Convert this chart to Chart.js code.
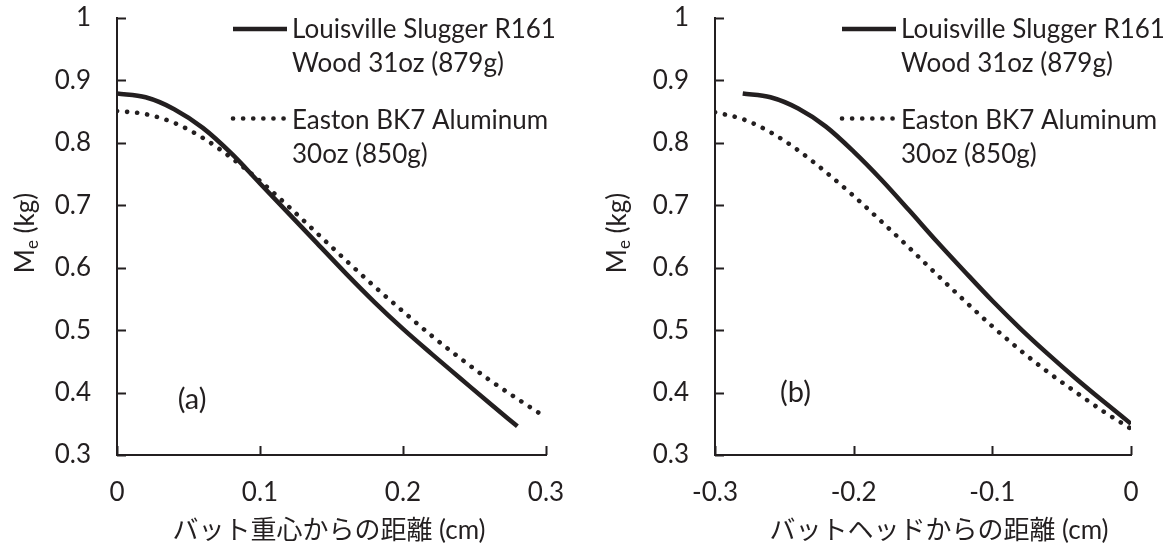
<!DOCTYPE html>
<html>
<head>
<meta charset="utf-8">
<script src="https://cdn.jsdelivr.net/npm/chart.js@4.4.1/dist/chart.umd.min.js"></script>
<style>
  body { margin: 0; background: #fff; }
  #wrap { position: relative; width: 1169px; height: 547px; }
  canvas { position: absolute; top: 0; }
</style>
</head>
<body>
<div id="wrap">
  <canvas id="chartA" width="585" height="547" style="left:0"></canvas>
  <canvas id="chartB" width="584" height="547" style="left:585px"></canvas>
</div>
<script>
// (a) distance from the bat's centre of mass
const distA_wood = [0, 0.02, 0.04, 0.06, 0.08, 0.10, 0.12, 0.14, 0.16, 0.18, 0.20, 0.22, 0.24, 0.26, 0.28];
const meA_wood = [0.879, 0.873, 0.854, 0.824, 0.783, 0.735, 0.687, 0.639, 0.591, 0.545, 0.502, 0.462, 0.423, 0.384, 0.346];
const distA_alu = [0, 0.02, 0.04, 0.06, 0.08, 0.10, 0.12, 0.14, 0.16, 0.18, 0.20, 0.22, 0.24, 0.26, 0.28, 0.30];
const meA_alu = [0.851, 0.846, 0.832, 0.808, 0.776, 0.739, 0.698, 0.655, 0.612, 0.570, 0.530, 0.491, 0.455, 0.421, 0.390, 0.360];

// (b) distance from the bat head
const distB_wood = [-0.28, -0.26, -0.24, -0.22, -0.20, -0.18, -0.16, -0.14, -0.12, -0.10, -0.08, -0.06, -0.04, -0.02, 0];
const meB_wood = [0.879, 0.873, 0.855, 0.826, 0.786, 0.741, 0.692, 0.642, 0.594, 0.547, 0.503, 0.462, 0.423, 0.386, 0.350];
const distB_alu = [-0.30, -0.28, -0.26, -0.24, -0.22, -0.20, -0.18, -0.16, -0.14, -0.12, -0.10, -0.08, -0.06, -0.04, -0.02, 0];
const meB_alu = [0.849, 0.838, 0.817, 0.788, 0.753, 0.715, 0.674, 0.632, 0.589, 0.547, 0.506, 0.468, 0.433, 0.401, 0.370, 0.342];

const seriesNames = [
  ['Louisville Slugger R161', 'Wood 31oz (879g)'],
  ['Easton BK7 Aluminum', '30oz (850g)']
];
const xTitles = ['バット重心からの距離 (cm)', 'バットヘッドからの距離 (cm)'];
const panelNames = ['(a)', '(b)'];

const ink = '#231f20';
const family = 'Lato, "Noto Sans CJK JP", sans-serif';

function pts(xs, ys) {
  return xs.map((x, i) => ({ x: x, y: ys[i] }));
}

function fmt(v) {
  return String(Math.round(v * 10) / 10);
}

const extras = {
  id: 'extras',
  afterDraw(chart, args, opts) {
    const { ctx, chartArea, scales: { x, y } } = chart;
    ctx.save();
    ctx.strokeStyle = ink;
    ctx.lineWidth = 2;
    ctx.beginPath();
    x.ticks.forEach(t => {
      const px = Math.round(x.getPixelForValue(t.value)) + 0.5;
      ctx.moveTo(px, chartArea.bottom);
      ctx.lineTo(px, chartArea.bottom - 9);
    });
    y.ticks.forEach(t => {
      const py = Math.round(y.getPixelForValue(t.value)) + 0.5;
      ctx.moveTo(chartArea.left, py);
      ctx.lineTo(chartArea.left + 9, py);
    });
    ctx.stroke();

    ctx.fillStyle = ink;
    ctx.textBaseline = 'middle';
    ctx.textAlign = 'center';
    ctx.font = '29px ' + family;
    ctx.fillText(opts.panel, x.getPixelForValue(opts.panelAt[0]), y.getPixelForValue(opts.panelAt[1]));

    // x title
    ctx.font = '26px ' + family;
    ctx.fillText(opts.xTitle, opts.xTitleX, 531);

    // legend
    ctx.textAlign = 'left';
    ctx.textBaseline = 'alphabetic';
    ctx.font = '26px ' + family;
    chart.data.datasets.forEach((ds, i) => {
      const ly = opts.legendY[i];
      ctx.save();
      ctx.lineWidth = ds.borderWidth;
      ctx.lineCap = ds.borderCapStyle || 'butt';
      ctx.setLineDash(ds.borderDash || []);
      ctx.beginPath();
      ctx.moveTo(opts.legendX, ly);
      ctx.lineTo(opts.legendX + 54, ly);
      ctx.stroke();
      ctx.restore();
      seriesNames[i].forEach((line, j) => {
        ctx.fillText(line, opts.legendX + 59, opts.legendBase[i] + j * 34.5);
      });
    });

    // y title with subscript
    ctx.translate(opts.yTitleX, 233);
    ctx.rotate(-Math.PI / 2);
    ctx.textBaseline = 'middle';
    const big = '26px ' + family, small = '17px ' + family;
    ctx.font = big;
    const wM = ctx.measureText('M').width;
    const wRest = ctx.measureText(' (kg)').width;
    ctx.font = small;
    const wE = ctx.measureText('e').width;
    let cx = -(wM + wE + wRest) / 2;
    ctx.font = big;
    ctx.fillText('M', cx, 0);
    cx += wM;
    ctx.font = small;
    ctx.fillText('e', cx, 7);
    cx += wE;
    ctx.font = big;
    ctx.fillText(' (kg)', cx, 0);
    ctx.restore();
  }
};

function makeChart(id, woodX, woodY, aluX, aluY, xMin, xMax, yWidth, opts) {
  const canvas = document.getElementById(id);
  return new Chart(canvas, {
    type: 'line',
    data: {
      datasets: [{
        label: seriesNames[0].join(' '),
        data: pts(woodX, woodY),
        borderColor: ink,
        borderWidth: 4.5,
        borderCapStyle: 'butt',
        pointRadius: 0,
        cubicInterpolationMode: 'monotone'
      }, {
        label: seriesNames[1].join(' '),
        data: pts(aluX, aluY),
        borderColor: ink,
        borderWidth: 4.6,
        borderDash: [0.1, 10],
        borderCapStyle: 'round',
        pointRadius: 0,
        cubicInterpolationMode: 'monotone'
      }]
    },
    options: {
      responsive: false,
      animation: false,
      devicePixelRatio: 1,
      layout: { padding: { left: 0, right: canvas.width - 546, top: 18, bottom: 0 } },
      plugins: {
        legend: { display: false },
        tooltip: { enabled: false },
        extras: opts
      },
      scales: {
        x: {
          type: 'linear',
          min: xMin,
          max: xMax,
          grid: { display: false, drawTicks: false },
          border: { display: true, color: ink, width: 2 },
          ticks: { stepSize: 0.1, color: ink, font: { family: family, size: 26 }, padding: 22, maxRotation: 0, callback: fmt },
          afterFit(s) { s.height = 92; s.paddingLeft = 0; s.paddingRight = 0; }
        },
        y: {
          min: 0.3,
          max: 1,
          grid: { display: false, drawTicks: false },
          border: { display: true, color: ink, width: 2 },
          ticks: { stepSize: 0.1, color: ink, font: { family: family, size: 26 }, padding: 26, callback: fmt },
          afterFit(s) { s.width = yWidth; s.paddingTop = 0; s.paddingBottom = 0; }
        }
      }
    },
    plugins: [extras]
  });
}

makeChart('chartA', distA_wood, meA_wood, distA_alu, meA_alu, 0, 0.3, 117,
  { panel: panelNames[0], panelAt: [0.0525, 0.388], legendX: 233, legendY: [29, 118.5], legendBase: [37.5, 128.5],
    yTitleX: 26, xTitle: xTitles[0], xTitleX: 329 });
makeChart('chartB', distB_wood, meB_wood, distB_alu, meB_alu, -0.3, 0, 130,
  { panel: panelNames[1], panelAt: [-0.242, 0.40], legendX: 257, legendY: [29, 118.5], legendBase: [37.5, 128.5],
    yTitleX: 33, xTitle: xTitles[1], xTitleX: 354 });
</script>
</body>
</html>
